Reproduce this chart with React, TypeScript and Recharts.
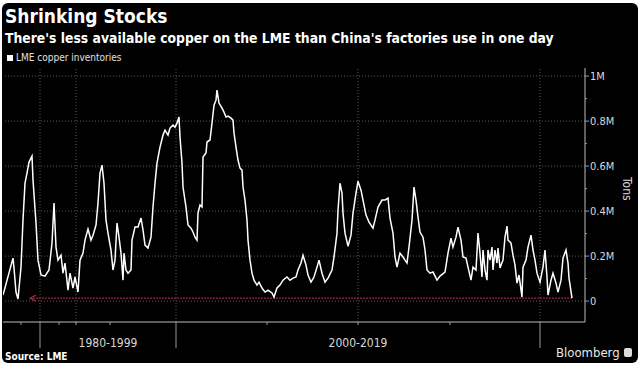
import {Line, LineChart, ReferenceLine, XAxis, YAxis} from 'recharts';

// sample position along the time axis (chart units) and LME copper stocks in thousand tons
const weeks = [
    0, 10, 11, 13, 15, 18, 20, 22, 24, 26, 29, 30, 33, 35, 38, 42, 46, 49, 51, 53,
    55, 58, 60, 62, 65, 67, 70, 72, 75, 77, 80, 82, 85, 88, 90, 93, 95, 97, 99, 101,
    103, 105, 108, 110, 112, 114, 116, 118, 120, 121, 123, 125, 128, 129, 132, 135, 138, 140, 142, 145,
    148, 150, 152, 154, 157, 160, 162, 165, 167, 170, 172, 174, 176, 177, 179, 180, 183, 185, 188, 190,
    192, 194, 195, 197, 199, 200, 203, 204, 207, 209, 211, 213, 214, 216, 219, 221, 223, 225, 228, 230,
    231, 233, 235, 237, 239, 240, 242, 244, 245, 247, 249, 251, 254, 256, 259, 262, 265, 269, 271, 274,
    277, 280, 284, 287, 290, 293, 295, 298, 300, 303, 305, 308, 311, 314, 316, 319, 322, 325, 329, 331,
    334, 335, 337, 339, 340, 342, 345, 348, 350, 353, 355, 358, 360, 363, 366, 370, 372, 375, 379, 382,
    385, 387, 390, 392, 394, 397, 400, 402, 404, 406, 409, 411, 413, 415, 417, 420, 422, 424, 427, 430,
    434, 437, 442, 445, 448, 450, 453, 455, 458, 460, 463, 465, 468, 470, 473, 475, 477, 479, 480, 482,
    484, 485, 487, 489, 490, 492, 494, 495, 497, 500, 502, 504, 505, 508, 510, 512, 514, 516, 519, 520,
    523, 525, 528, 530, 532, 534, 537, 540, 542, 544, 545, 548, 550, 553, 555, 558, 560, 563, 565, 566,
    569,
];
const stocksKt = [
    27, 191, 147, 40, 9, 151, 360, 524, 569, 618, 644, 538, 347, 182, 116, 111, 138, 258, 436, 240,
    182, 204, 124, 169, 49, 124, 58, 107, 40, 182, 213, 271, 320, 271, 293, 338, 436, 569, 604, 524,
    360, 302, 227, 138, 182, 347, 284, 213, 93, 213, 138, 124, 138, 271, 329, 329, 369, 316, 249, 236,
    284, 418, 524, 613, 684, 738, 760, 738, 769, 782, 773, 791, 818, 729, 613, 507, 418, 338, 324, 307,
    284, 271, 391, 427, 418, 640, 658, 707, 716, 791, 871, 893, 938, 880, 858, 840, 818, 822, 813, 804,
    747, 684, 627, 591, 582, 507, 449, 360, 271, 182, 124, 93, 71, 84, 58, 40, 49, 36, 18, 58,
    71, 93, 107, 93, 102, 107, 138, 169, 204, 160, 116, 84, 107, 151, 182, 124, 84, 102, 138, 196,
    302, 404, 524, 480, 391, 302, 244, 293, 391, 480, 533, 493, 449, 382, 351, 324, 360, 418, 449, 449,
    458, 369, 302, 196, 151, 213, 196, 182, 169, 240, 360, 507, 449, 373, 307, 284, 227, 138, 124, 129,
    93, 111, 129, 213, 280, 240, 284, 329, 271, 196, 191, 151, 93, 151, 138, 302, 213, 107, 227, 138,
    93, 227, 182, 240, 138, 227, 169, 236, 147, 182, 284, 333, 271, 258, 204, 160, 80, 116, 18, 151,
    182, 240, 293, 227, 182, 124, 84, 151, 227, 107, 27, 93, 124, 80, 40, 93, 191, 227, 169, 102,
    13,
];

const tonTicks = [0, 100, 200, 300, 400, 500, 600, 700, 800, 900, 1000];
const axisMarks = [18, 37, 56, 73, 107, 173, 264, 355, 447, 537];
const eraBreaks = [37, 173, 537];
const gridWeeks = [37, 73, 173, 355, 537];
const eraLabels = [
    {t: 105, text: '1980-1999'},
    {t: 355, text: '2000-2019'},
];
const latestLevel = 13;
const arrowStart = 27;

const data = weeks.map((t, i) => ({t, stocks: stocksKt[i]}));
const xTicks = [...axisMarks, 105].sort((a, b) => a - b);

const font = "'DejaVu Sans Condensed', 'DejaVu Sans', sans-serif";

const XTick = (props: any) => {
    const {x, y, payload} = props;
    const v = payload.value;
    const era = eraLabels.find(e => e.t === v);
    let mark = null;
    if (eraBreaks.includes(v)) {
        mark = <line x1={x} x2={x} y1={y} y2={y + 26} stroke="#9a9a9a" />;
    } else if (axisMarks.includes(v)) {
        mark = <line x1={x} x2={x} y1={y} y2={y + 3} stroke="#9a9a9a" />;
    }
    return (
        <g>
            {mark}
            {era && (
                <text x={x} y={y + 25} textAnchor="middle" fill="#d8d8d8" fontSize={12} fontFamily={font}>
                    {era.text}
                </text>
            )}
        </g>
    );
};

const YTick = (props: any) => {
    const {x, y, payload} = props;
    const v = payload.value;
    const major = v % 200 === 0;
    const label = v === 0 ? '0' : `${v / 1000}M`;
    return (
        <g>
            <line x1={x} x2={x + (major ? 4 : 2)} y1={y} y2={y} stroke="#9a9a9a" />
            {major && (
                <text x={x + 5} y={y + 4} fill="#d8d8d8" fontSize={11} fontFamily={font}>
                    {label}
                </text>
            )}
        </g>
    );
};

const ArrowLine = (props: any) => {
    const {x1, x2, y1} = props;
    const left = Math.min(x1, x2);
    const right = Math.max(x1, x2);
    return (
        <g stroke="#9b2a3e" fill="none" strokeWidth={1.2}>
            <line x1={left} x2={right} y1={y1} y2={y1} strokeDasharray="2 1" />
            <path d={`M${left + 6},${y1 - 3} L${left},${y1} L${left + 6},${y1 + 3}`} />
        </g>
    );
};

export default function App() {
    return (
        <div style={{position: 'fixed', left: 0, top: 0, width: 640, height: 366, background: '#fff', fontFamily: font}}>
            <div style={{position: 'absolute', left: 2, top: 3, width: 636, height: 360, background: '#000', borderRadius: 6}} />
            <div style={{position: 'absolute', left: 5, top: 5, color: '#fff', fontSize: 19, fontWeight: 'bold', whiteSpace: 'nowrap'}}>
                Shrinking Stocks
            </div>
            <div style={{position: 'absolute', left: 5, top: 30, color: '#fff', fontSize: 13.8, fontWeight: 'bold', whiteSpace: 'nowrap'}}>
                There's less available copper on the LME than China's factories use in one day
            </div>
            <div style={{position: 'absolute', left: 7, top: 52, color: '#e0e0e0', fontSize: 10, whiteSpace: 'nowrap', display: 'flex', alignItems: 'center'}}>
                <span style={{display: 'inline-block', width: 6, height: 6, background: '#fff', marginRight: 3}} />
                LME copper inventories
            </div>
            <div style={{position: 'absolute', left: 634, top: 177, color: '#d8d8d8', fontSize: 12, lineHeight: '14px', transform: 'rotate(90deg)', transformOrigin: 'left top', whiteSpace: 'nowrap'}}>
                Tons
            </div>
            <div style={{position: 'absolute', left: 5, top: 351, color: '#fff', fontSize: 10, fontWeight: 'bold'}}>
                Source: LME
            </div>
            <div style={{position: 'absolute', left: 556, top: 345, color: '#e8e8e8', fontSize: 13, whiteSpace: 'nowrap', display: 'flex', alignItems: 'center'}}>
                Bloomberg
                <span style={{display: 'inline-block', width: 8, height: 9, background: '#ddd', borderRadius: 2, marginLeft: 4}} />
            </div>
            <LineChart
                width={640}
                height={366}
                data={data}
                margin={{top: 68, right: 5, left: 3, bottom: 14}}
                style={{position: 'absolute', left: 0, top: 0}}
            >
                {tonTicks.filter(v => v % 200 === 0).map(v => (
                    <ReferenceLine key={`h${v}`} y={v} stroke="#5a5a5a" strokeDasharray="1 2" />
                ))}
                {gridWeeks.map(t => (
                    <ReferenceLine key={`v${t}`} x={t} stroke="#5a5a5a" strokeDasharray="1 2" />
                ))}
                <XAxis
                    dataKey="t"
                    type="number"
                    domain={[0, 582]}
                    ticks={xTicks}
                    interval={0}
                    tick={XTick}
                    tickLine={false}
                    tickSize={0}
                    tickMargin={0}
                    height={30}
                    axisLine={{stroke: '#bbb'}}
                    allowDataOverflow
                />
                <YAxis
                    orientation="right"
                    type="number"
                    domain={[-93, 1036]}
                    ticks={tonTicks}
                    interval={0}
                    tick={YTick}
                    tickLine={false}
                    tickSize={0}
                    tickMargin={0}
                    width={50}
                    axisLine={{stroke: '#bbb'}}
                    allowDataOverflow
                />
                <ReferenceLine
                    segment={[{x: arrowStart, y: latestLevel}, {x: weeks[weeks.length - 1], y: latestLevel}]}
                    shape={ArrowLine}
                />
                <Line
                    type="linear"
                    dataKey="stocks"
                    stroke="#fff"
                    strokeWidth={1.5}
                    dot={false}
                    isAnimationActive={false}
                />
            </LineChart>
        </div>
    );
}
